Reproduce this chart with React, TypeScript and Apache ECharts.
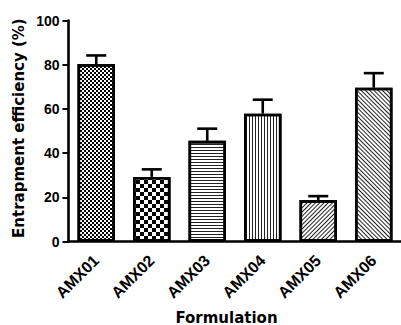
import React, { useEffect, useRef } from "react";
import * as echarts from "echarts";

const categories = ["AMX01", "AMX02", "AMX03", "AMX04", "AMX05", "AMX06"];
const efficiency = [80.3, 29.3, 45.6, 57.9, 18.8, 69.6];
const errorUp = [3.9, 3.4, 5.5, 6.3, 1.8, 6.6];
const yTicks = [0, 20, 40, 60, 80, 100];

const yTitle = "Entrapment efficiency (%)";
const xTitle = "Formulation";

const LABEL_FONT = "'Liberation Sans', Arial, sans-serif";
const TITLE_FONT = "'DejaVu Sans', sans-serif";

const decals: any[] = [
  { symbol: "rect", symbolSize: 1, color: "#000", backgroundColor: "#fff", dashArrayX: [[2, 2], [0, 2, 2, 0]], dashArrayY: [2, 0] },
  { symbol: "rect", symbolSize: 1, color: "#000", backgroundColor: "#fff", dashArrayX: [[4, 4], [0, 4, 4, 0]], dashArrayY: [4, 0] },
  { symbol: "rect", symbolSize: 1, color: "#222", backgroundColor: "#fff", dashArrayX: [10, 0], dashArrayY: [1, 2] },
  { symbol: "rect", symbolSize: 1, color: "#222", backgroundColor: "#fff", dashArrayX: [1, 2], dashArrayY: [10, 0] },
  { symbol: "rect", symbolSize: 1, color: "#222", backgroundColor: "#fff", dashArrayX: [10, 0], dashArrayY: [1, 2], rotation: -Math.PI / 4 },
  { symbol: "rect", symbolSize: 1, color: "#222", backgroundColor: "#fff", dashArrayX: [10, 0], dashArrayY: [1, 2], rotation: Math.PI / 4 },
];

export default function App() {
  const ref = useRef<HTMLDivElement>(null);
  useEffect(() => {
    if (!ref.current) return;
    const chart = echarts.init(ref.current, null, { renderer: "svg" });
    const gridTop = 20.5;
    const gridHeight = 221.2;
    chart.setOption({
      animation: false,
      backgroundColor: "#fff",
      grid: {
        left: 68.5,
        top: gridTop,
        width: 333,
        height: gridHeight,
        containLabel: false,
        outerBoundsMode: "none",
      },
      xAxis: {
        type: "category",
        data: categories,
        axisLine: { lineStyle: { color: "#000", width: 2.6 } },
        axisTick: { alignWithLabel: true, length: 6, lineStyle: { color: "#000", width: 2 } },
        axisLabel: {
          rotate: 45,
          margin: 16,
          color: "#000",
          fontWeight: "bold",
          fontSize: 16,
          fontFamily: LABEL_FONT,
        },
      },
      yAxis: {
        type: "value",
        min: yTicks[0],
        max: yTicks[yTicks.length - 1],
        interval: 20,
        splitLine: { show: false },
        axisLine: { show: true, lineStyle: { color: "#000", width: 2.6 } },
        axisTick: { show: true, length: 6, lineStyle: { color: "#000", width: 2 } },
        axisLabel: {
          margin: 9,
          color: "#000",
          fontWeight: "bold",
          fontSize: 14,
          fontFamily: LABEL_FONT,
        },
      },
      series: [
        {
          type: "bar",
          barWidth: 37.5,
          data: efficiency.map((v, i) => ({
            value: v,
            itemStyle: { color: "#fff", borderColor: "#000", borderWidth: 2.6, decal: decals[i] },
          })),
          z: 2,
        },
        {
          type: "custom",
          z: 3,
          data: efficiency.map((v, i) => [i, v, errorUp[i]]),
          encode: { x: 0, y: 1 },
          renderItem: (params: any, api: any) => {
            const idx = api.value(0);
            const v = api.value(1);
            const e = api.value(2);
            const base = api.coord([idx, v]);
            const top = api.coord([idx, v + e]);
            const half = 10;
            return {
              type: "group",
              children: [
                {
                  type: "line",
                  shape: { x1: base[0], y1: base[1], x2: top[0], y2: top[1] },
                  style: { stroke: "#000", lineWidth: 2.6 },
                },
                {
                  type: "line",
                  shape: { x1: top[0] - half, y1: top[1], x2: top[0] + half, y2: top[1] },
                  style: { stroke: "#000", lineWidth: 2.6 },
                },
              ],
            };
          },
        },
      ],
      graphic: [
        {
          type: "text",
          x: 19,
          y: gridTop + gridHeight / 2 - 3,
          rotation: Math.PI / 2,
          style: {
            text: yTitle,
            fill: "#000",
            font: `bold 15px ${TITLE_FONT}`,
            textAlign: "center",
            textVerticalAlign: "middle",
          },
        },
        {
          type: "text",
          x: 226.5,
          y: 317.5,
          style: {
            text: xTitle,
            fill: "#000",
            font: `bold 15px ${TITLE_FONT}`,
            textAlign: "center",
            textVerticalAlign: "middle",
          },
        },
      ],
    });
    return () => chart.dispose();
  }, []);
  return (
    <div
      ref={ref}
      style={{ position: "fixed", left: 0, top: 0, width: 401, height: 325, background: "#fff" }}
    />
  );
}
